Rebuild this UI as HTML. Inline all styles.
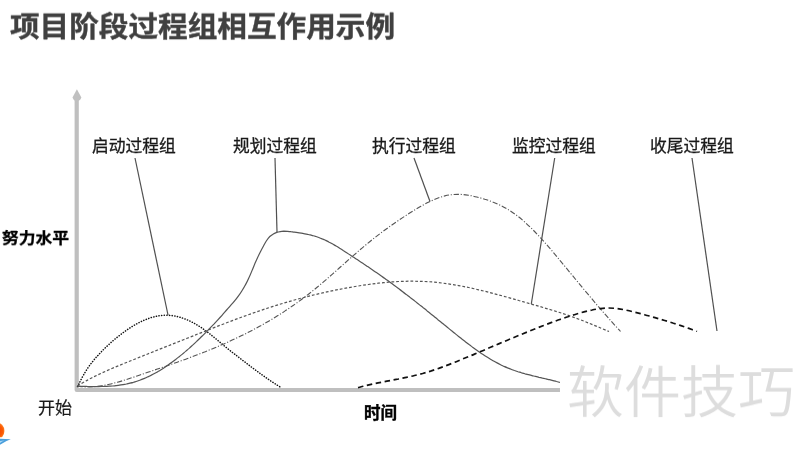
<!DOCTYPE html>
<html lang="zh-CN">
<head>
<meta charset="utf-8">
<title>项目阶段过程组相互作用示例</title>
<style>
html,body{margin:0;padding:0;background:#fff;}
body{width:800px;height:450px;position:relative;overflow:hidden;font-family:"Liberation Sans","Noto Sans CJK SC",sans-serif;}
.t{position:absolute;white-space:nowrap;line-height:1;margin:0;will-change:transform;}
#title{left:10px;top:11px;font-size:29.64px;font-weight:700;color:#404040;-webkit-text-stroke:0.4px #404040;transform:scaleY(0.945);transform-origin:0 100%;}
.lab{font-size:16.75px;color:#1a1a1a;top:139px;font-weight:400;-webkit-text-stroke:0.3px #1a1a1a;}
#ylab{left:1.700px;top:230.800px;font-size:16.8px;font-weight:700;color:#000;-webkit-text-stroke:0.35px #000;transform:scaleY(0.9);transform-origin:0 50%;}
#start{left:37.500px;top:400px;font-size:17px;color:#1a1a1a;-webkit-text-stroke:0.2px #1a1a1a;}
#xlab{left:364.300px;top:404.800px;font-size:16.5px;font-weight:700;color:#000;-webkit-text-stroke:0.35px #000;}
#wm{left:567px;top:364px;font-size:57px;color:#dddddd;font-weight:350;transform:scaleY(0.98);transform-origin:0 100%;}
#wmbg{position:absolute;left:560px;top:332px;width:240px;height:118px;background:#fff;}
svg{position:absolute;left:0;top:0;}
</style>
</head>
<body>
<svg id="chart" width="800" height="450" viewBox="0 0 800 450">
  <g fill="none" stroke="#bfbfbf" stroke-width="4.200" stroke-linejoin="round">
    <path d="M76.700 99 V390 H560"/>
  </g>
  <path d="M76.900 89.300 L81.400 97.500 Q80.600 99.800 78.900 100.800 H74.900 Q73.300 99.800 72.500 97.500 Z" fill="#c0c0c0"/>
  <g fill="none" stroke="#505050" stroke-width="1.200">
    <line x1="135" y1="158" x2="168" y2="315"/>
    <line x1="275" y1="158" x2="277" y2="232"/>
    <line x1="414" y1="158" x2="430" y2="201.500"/>
    <line x1="554.700" y1="158" x2="531.300" y2="304"/>
    <line x1="692" y1="158" x2="717" y2="331"/>
  </g>
  <!-- initiating -->
  <path id="c1" d="M77.5 386.5 C77.7 386.1 78.2 385.1 78.7 384.2 C79.2 383.2 79.7 382.2 80.5 380.7 C81.3 379.1 82.3 377.0 83.5 375.0 C84.7 373.0 86.0 370.7 87.5 368.5 C88.9 366.3 90.8 363.8 92.4 361.8 C94.1 359.7 95.7 357.8 97.4 356.0 C99.1 354.1 100.7 352.4 102.4 350.7 C104.0 349.0 105.7 347.4 107.4 345.9 C109.0 344.3 110.7 342.8 112.3 341.4 C114.0 339.9 115.6 338.5 117.3 337.2 C119.0 335.9 120.6 334.6 122.3 333.3 C123.9 332.1 125.6 330.9 127.3 329.7 C128.9 328.6 130.6 327.5 132.2 326.5 C133.9 325.4 135.5 324.5 137.2 323.6 C138.9 322.7 140.5 321.8 142.2 321.1 C143.8 320.3 145.5 319.6 147.2 319.0 C148.8 318.4 150.5 317.8 152.1 317.3 C153.8 316.9 155.5 316.5 157.1 316.1 C158.8 315.8 160.4 315.6 162.1 315.4 C163.7 315.3 165.4 315.2 167.1 315.3 C168.7 315.3 170.4 315.4 172.0 315.6 C173.7 315.8 175.4 316.1 177.0 316.5 C178.7 316.9 180.3 317.4 182.0 317.9 C183.6 318.4 185.3 319.1 187.0 319.8 C188.6 320.5 190.3 321.2 191.9 322.1 C193.6 322.9 195.3 323.9 196.9 324.9 C198.6 325.9 200.2 326.9 201.9 328.0 C203.5 329.2 205.2 330.4 206.9 331.6 C208.5 332.9 210.2 334.2 211.8 335.5 C213.5 336.9 215.2 338.2 216.8 339.6 C218.5 341.0 220.1 342.4 221.8 343.8 C223.5 345.2 225.1 346.6 226.8 347.9 C228.4 349.3 230.1 350.6 231.7 351.9 C233.4 353.2 235.1 354.5 236.7 355.7 C238.4 357.0 240.0 358.3 241.7 359.6 C243.4 360.9 245.0 362.1 246.7 363.4 C248.3 364.7 250.0 365.9 251.6 367.2 C253.3 368.4 255.0 369.7 256.6 370.9 C258.3 372.1 259.9 373.4 261.6 374.5 C263.3 375.7 264.9 376.9 266.6 378.1 C268.2 379.2 269.9 380.4 271.5 381.5 C273.2 382.6 274.9 383.7 276.5 384.7 C278.2 385.8 280.7 387.3 281.5 387.8" fill="none" stroke="#111" stroke-width="1.500" stroke-linecap="round" stroke-dasharray="0.200 2.450"/>
  <!-- planning -->
  <path id="c2" d="M77.5 386.2 C78.1 386.2 79.8 386.3 81.0 386.3 C82.2 386.3 83.3 386.4 84.5 386.4 C85.7 386.4 86.8 386.5 88.0 386.5 C89.2 386.5 90.3 386.6 91.5 386.6 C92.7 386.6 93.8 386.6 95.0 386.6 C96.1 386.6 97.3 386.6 98.5 386.6 C99.6 386.6 100.8 386.6 102.0 386.5 C103.1 386.5 104.3 386.5 105.5 386.4 C106.6 386.4 107.8 386.3 109.0 386.2 C110.1 386.2 111.3 386.1 112.5 386.0 C113.6 385.9 114.8 385.8 116.0 385.6 C117.1 385.5 118.3 385.4 119.5 385.2 C120.6 385.0 121.8 384.8 123.0 384.6 C124.1 384.4 125.3 384.2 126.4 384.0 C127.6 383.7 128.8 383.5 129.9 383.2 C131.1 382.9 132.3 382.6 133.4 382.3 C134.6 381.9 135.8 381.6 136.9 381.2 C138.1 380.8 139.3 380.4 140.4 380.0 C141.6 379.5 142.8 379.1 143.9 378.6 C145.1 378.1 146.3 377.6 147.4 377.0 C148.6 376.5 149.8 375.9 150.9 375.4 C152.1 374.8 153.3 374.2 154.4 373.5 C155.6 372.9 156.8 372.2 157.9 371.6 C159.1 370.9 160.2 370.2 161.4 369.4 C162.6 368.7 163.7 368.0 164.9 367.2 C166.1 366.4 167.2 365.6 168.4 364.8 C169.6 364.0 170.7 363.2 171.9 362.3 C173.1 361.5 174.2 360.6 175.4 359.7 C176.6 358.8 177.7 357.9 178.9 356.9 C180.1 356.0 181.2 355.1 182.4 354.1 C183.6 353.1 184.7 352.1 185.9 351.1 C187.1 350.1 188.2 349.1 189.4 348.1 C190.5 347.0 191.7 346.0 192.9 344.9 C194.0 343.8 195.2 342.7 196.4 341.6 C197.5 340.5 198.7 339.4 199.9 338.3 C201.0 337.1 202.2 336.0 203.4 334.8 C204.5 333.7 205.7 332.5 206.9 331.3 C208.0 330.1 209.2 328.9 210.4 327.7 C211.5 326.5 212.7 325.3 213.9 324.1 C215.0 322.8 216.2 321.6 217.4 320.3 C218.5 319.1 219.7 317.8 220.9 316.5 C222.0 315.2 223.2 313.9 224.3 312.6 C225.5 311.3 226.7 310.0 227.8 308.7 C229.0 307.4 230.2 306.1 231.3 304.7 C232.5 303.4 233.7 302.1 234.8 300.6 C236.0 299.2 237.2 297.7 238.3 296.1 C239.5 294.5 240.7 292.9 241.8 291.0 C243.0 289.2 244.2 287.3 245.3 285.1 C246.5 283.0 247.7 280.7 248.8 278.1 C250.0 275.6 251.2 272.7 252.3 269.9 C253.5 267.2 254.6 264.1 255.8 261.5 C257.0 258.9 258.1 256.5 259.3 254.1 C260.5 251.7 261.6 249.5 262.8 247.3 C264.0 245.1 265.1 242.8 266.3 241.0 C267.5 239.2 268.6 237.7 269.8 236.5 C271.0 235.3 272.1 234.7 273.3 234.0 C274.5 233.3 275.6 232.8 276.8 232.4 C278.0 232.0 279.1 231.8 280.3 231.6 C281.5 231.4 282.6 231.3 283.8 231.2 C285.0 231.2 286.1 231.2 287.3 231.3 C288.4 231.4 289.6 231.5 290.8 231.7 C291.9 231.8 293.1 232.0 294.3 232.1 C295.4 232.3 296.6 232.5 297.8 232.6 C298.9 232.8 300.1 233.0 301.3 233.2 C302.4 233.4 303.6 233.6 304.8 233.8 C305.9 234.0 307.1 234.3 308.3 234.5 C309.4 234.8 310.6 235.0 311.8 235.3 C312.9 235.6 314.1 236.0 315.3 236.3 C316.4 236.7 317.6 237.1 318.8 237.5 C319.9 237.9 321.1 238.4 322.2 238.9 C323.4 239.3 324.6 239.9 325.7 240.4 C326.9 241.0 328.1 241.6 329.2 242.2 C330.4 242.8 331.6 243.4 332.7 244.1 C333.9 244.8 335.1 245.4 336.2 246.1 C337.4 246.8 338.6 247.5 339.7 248.3 C340.9 249.0 342.1 249.7 343.2 250.5 C344.4 251.2 345.6 252.0 346.7 252.7 C347.9 253.5 349.1 254.3 350.2 255.0 C351.4 255.8 352.5 256.6 353.7 257.3 C354.9 258.1 356.0 258.9 357.2 259.6 C358.4 260.4 359.5 261.2 360.7 261.9 C361.9 262.7 363.0 263.5 364.2 264.3 C365.4 265.0 366.5 265.8 367.7 266.6 C368.9 267.4 370.0 268.2 371.2 269.0 C372.4 269.8 373.5 270.6 374.7 271.4 C375.9 272.2 377.0 273.0 378.2 273.8 C379.4 274.6 380.5 275.4 381.7 276.2 C382.9 277.1 384.0 277.9 385.2 278.7 C386.3 279.6 387.5 280.4 388.7 281.3 C389.8 282.1 391.0 283.0 392.2 283.8 C393.3 284.7 394.5 285.5 395.7 286.4 C396.8 287.3 398.0 288.2 399.2 289.0 C400.3 289.9 401.5 290.8 402.7 291.7 C403.8 292.6 405.0 293.5 406.2 294.4 C407.3 295.3 408.5 296.2 409.7 297.1 C410.8 298.0 412.0 298.9 413.2 299.8 C414.3 300.7 415.5 301.6 416.6 302.5 C417.8 303.4 419.0 304.4 420.1 305.3 C421.3 306.2 422.5 307.1 423.6 308.1 C424.8 309.0 426.0 309.9 427.1 310.9 C428.3 311.8 429.5 312.7 430.6 313.7 C431.8 314.6 433.0 315.6 434.1 316.5 C435.3 317.5 436.5 318.4 437.6 319.4 C438.8 320.3 440.0 321.3 441.1 322.2 C442.3 323.2 443.5 324.1 444.6 325.1 C445.8 326.0 447.0 327.0 448.1 327.9 C449.3 328.9 450.4 329.8 451.6 330.8 C452.8 331.7 453.9 332.7 455.1 333.6 C456.3 334.6 457.4 335.5 458.6 336.4 C459.8 337.3 460.9 338.3 462.1 339.2 C463.3 340.1 464.4 341.0 465.6 341.9 C466.8 342.8 467.9 343.7 469.1 344.6 C470.3 345.4 471.4 346.3 472.6 347.2 C473.8 348.0 474.9 348.9 476.1 349.7 C477.3 350.5 478.4 351.4 479.6 352.2 C480.7 353.0 481.9 353.8 483.1 354.5 C484.2 355.3 485.4 356.1 486.6 356.8 C487.7 357.5 488.9 358.3 490.1 359.0 C491.2 359.7 492.4 360.3 493.6 361.0 C494.7 361.7 495.9 362.3 497.1 362.9 C498.2 363.5 499.4 364.1 500.6 364.7 C501.7 365.3 502.9 365.8 504.1 366.4 C505.2 366.9 506.4 367.4 507.6 367.9 C508.7 368.3 509.9 368.8 511.1 369.2 C512.2 369.7 513.4 370.1 514.5 370.5 C515.7 370.9 516.9 371.3 518.0 371.7 C519.2 372.1 520.4 372.4 521.5 372.8 C522.7 373.1 523.9 373.4 525.0 373.8 C526.2 374.1 527.4 374.4 528.5 374.7 C529.7 375.0 530.9 375.3 532.0 375.6 C533.2 375.9 534.4 376.1 535.5 376.4 C536.7 376.7 537.9 377.0 539.0 377.3 C540.2 377.5 541.4 377.8 542.5 378.1 C543.7 378.3 544.8 378.6 546.0 378.9 C547.2 379.2 548.3 379.4 549.5 379.7 C550.7 380.0 551.8 380.3 553.0 380.6 C554.2 380.9 555.3 381.1 556.5 381.5 C557.7 381.8 559.4 382.2 560.0 382.4" fill="none" stroke="#555" stroke-width="1.200"/>
  <!-- executing -->
  <path id="c3" d="M77.5 386.2 C78.8 386.3 82.8 386.8 85.5 386.9 C88.1 386.9 90.8 386.9 93.5 386.7 C96.1 386.5 98.8 386.2 101.5 385.7 C104.1 385.3 106.8 384.8 109.4 384.2 C112.1 383.6 114.8 382.9 117.4 382.2 C120.1 381.5 122.8 380.7 125.4 379.8 C128.1 379.0 130.7 378.1 133.4 377.2 C136.1 376.4 138.7 375.4 141.4 374.5 C144.0 373.6 146.7 372.7 149.4 371.8 C152.0 370.9 154.7 370.0 157.4 369.1 C160.0 368.2 162.7 367.3 165.3 366.4 C168.0 365.5 170.7 364.5 173.3 363.6 C176.0 362.6 178.6 361.7 181.3 360.7 C184.0 359.8 186.6 358.8 189.3 357.8 C192.0 356.8 194.6 355.8 197.3 354.8 C199.9 353.8 202.6 352.7 205.3 351.7 C207.9 350.6 210.6 349.5 213.2 348.4 C215.9 347.3 218.6 346.2 221.2 345.0 C223.9 343.9 226.6 342.7 229.2 341.5 C231.9 340.3 234.5 339.1 237.2 337.8 C239.9 336.5 242.5 335.2 245.2 333.9 C247.9 332.6 250.5 331.2 253.2 329.8 C255.8 328.4 258.5 326.9 261.2 325.5 C263.8 324.0 266.5 322.4 269.1 320.9 C271.8 319.3 274.5 317.7 277.1 316.0 C279.8 314.4 282.5 312.7 285.1 310.9 C287.8 309.2 290.4 307.4 293.1 305.5 C295.8 303.7 298.4 301.8 301.1 299.8 C303.8 297.8 306.4 295.8 309.1 293.7 C311.7 291.6 314.4 289.5 317.1 287.3 C319.7 285.1 322.4 282.9 325.0 280.6 C327.7 278.3 330.4 276.0 333.0 273.6 C335.7 271.3 338.4 268.9 341.0 266.5 C343.7 264.2 346.3 261.8 349.0 259.4 C351.7 257.1 354.3 254.7 357.0 252.4 C359.6 250.1 362.3 247.8 365.0 245.6 C367.6 243.4 370.3 241.2 373.0 239.1 C375.6 237.0 378.3 234.9 380.9 232.9 C383.6 230.9 386.3 229.0 388.9 227.1 C391.6 225.2 394.2 223.3 396.9 221.5 C399.6 219.7 402.2 217.9 404.9 216.2 C407.6 214.4 410.2 212.7 412.9 211.1 C415.5 209.4 418.2 207.8 420.9 206.3 C423.5 204.8 426.2 203.3 428.9 202.0 C431.5 200.7 434.2 199.5 436.8 198.5 C439.5 197.5 442.2 196.6 444.8 195.9 C447.5 195.3 450.1 194.8 452.8 194.6 C455.5 194.3 458.1 194.3 460.8 194.4 C463.5 194.5 466.1 194.9 468.8 195.3 C471.4 195.7 474.1 196.3 476.8 197.0 C479.4 197.6 482.1 198.3 484.8 199.2 C487.4 200.0 490.1 200.9 492.7 202.0 C495.4 203.0 498.1 204.2 500.7 205.5 C503.4 206.8 506.0 208.3 508.7 209.9 C511.4 211.6 514.0 213.4 516.7 215.4 C519.4 217.4 522.0 219.6 524.7 222.0 C527.3 224.4 530.0 226.9 532.7 229.6 C535.3 232.2 538.0 235.1 540.6 237.9 C543.3 240.8 546.0 243.9 548.6 246.9 C551.3 250.0 554.0 253.2 556.6 256.3 C559.3 259.5 561.9 262.8 564.6 266.0 C567.3 269.2 569.9 272.5 572.6 275.7 C575.2 278.9 577.9 282.2 580.6 285.4 C583.2 288.6 585.9 291.8 588.6 294.9 C591.2 298.1 593.9 301.2 596.5 304.4 C599.2 307.5 601.9 310.6 604.5 313.6 C607.2 316.7 609.9 319.7 612.5 322.7 C615.2 325.7 619.2 330.0 620.5 331.5" fill="none" stroke="#555" stroke-width="1.100" stroke-dasharray="5.300 1.800 1.100 1.800"/>
  <!-- monitoring -->
  <path id="c4" d="M77.5 386.0 C79.2 385.0 84.2 381.9 87.5 380.1 C90.9 378.2 94.2 376.6 97.6 375.0 C100.9 373.4 104.2 371.9 107.6 370.4 C110.9 368.9 114.3 367.5 117.6 366.1 C121.0 364.8 124.3 363.4 127.6 362.0 C131.0 360.7 134.3 359.3 137.7 358.0 C141.0 356.6 144.4 355.3 147.7 354.0 C151.0 352.6 154.4 351.3 157.7 350.0 C161.1 348.6 164.4 347.3 167.8 346.0 C171.1 344.7 174.4 343.3 177.8 342.0 C181.1 340.7 184.5 339.3 187.8 338.0 C191.2 336.7 194.5 335.3 197.8 334.0 C201.2 332.7 204.5 331.4 207.9 330.1 C211.2 328.7 214.6 327.4 217.9 326.1 C221.2 324.8 224.6 323.6 227.9 322.3 C231.3 321.0 234.6 319.8 238.0 318.5 C241.3 317.3 244.6 316.1 248.0 314.9 C251.3 313.7 254.7 312.5 258.0 311.4 C261.4 310.2 264.7 309.1 268.0 308.0 C271.4 306.9 274.7 305.9 278.1 304.8 C281.4 303.8 284.8 302.8 288.1 301.8 C291.4 300.9 294.8 299.9 298.1 299.0 C301.5 298.1 304.8 297.2 308.2 296.4 C311.5 295.5 314.8 294.7 318.2 293.9 C321.5 293.1 324.9 292.4 328.2 291.7 C331.6 290.9 334.9 290.2 338.2 289.6 C341.6 288.9 344.9 288.3 348.3 287.7 C351.6 287.1 354.9 286.5 358.3 286.0 C361.6 285.4 365.0 284.9 368.3 284.5 C371.7 284.0 375.0 283.6 378.3 283.2 C381.7 282.8 385.0 282.5 388.4 282.2 C391.7 281.9 395.1 281.7 398.4 281.5 C401.7 281.4 405.1 281.3 408.4 281.2 C411.8 281.2 415.1 281.2 418.5 281.3 C421.8 281.3 425.1 281.5 428.5 281.7 C431.8 281.9 435.2 282.2 438.5 282.6 C441.9 283.0 445.2 283.4 448.5 283.9 C451.9 284.4 455.2 285.0 458.6 285.6 C461.9 286.2 465.3 286.8 468.6 287.5 C471.9 288.2 475.3 289.0 478.6 289.8 C482.0 290.6 485.3 291.4 488.7 292.2 C492.0 293.1 495.3 294.0 498.7 294.9 C502.0 295.8 505.4 296.7 508.7 297.6 C512.1 298.6 515.4 299.5 518.7 300.5 C522.1 301.4 525.4 302.4 528.8 303.4 C532.1 304.3 535.5 305.3 538.8 306.2 C542.1 307.2 545.5 308.2 548.8 309.2 C552.2 310.2 555.5 311.2 558.9 312.3 C562.2 313.3 565.5 314.4 568.9 315.6 C572.2 316.8 575.6 318.0 578.9 319.2 C582.3 320.5 585.6 321.8 588.9 323.2 C592.3 324.5 595.6 325.9 599.0 327.3 C602.3 328.7 607.3 330.8 609.0 331.5" fill="none" stroke="#555" stroke-width="1.200" stroke-dasharray="2.800 1.950"/>
  <!-- closing -->
  <path id="c5" d="M358.0 387.6 C359.3 387.3 363.4 386.2 366.1 385.5 C368.8 384.9 371.5 384.3 374.1 383.7 C376.8 383.1 379.5 382.6 382.2 382.1 C384.9 381.5 387.6 381.0 390.3 380.5 C393.0 380.0 395.7 379.5 398.4 379.0 C401.0 378.4 403.7 377.9 406.4 377.3 C409.1 376.8 411.8 376.2 414.5 375.5 C417.2 374.9 419.9 374.2 422.6 373.5 C425.3 372.7 428.0 371.9 430.6 371.1 C433.3 370.2 436.0 369.3 438.7 368.4 C441.4 367.4 444.1 366.4 446.8 365.4 C449.5 364.4 452.2 363.3 454.9 362.2 C457.5 361.2 460.2 360.0 462.9 358.9 C465.6 357.8 468.3 356.7 471.0 355.6 C473.7 354.4 476.4 353.3 479.1 352.1 C481.8 351.0 484.5 349.9 487.1 348.7 C489.8 347.6 492.5 346.4 495.2 345.3 C497.9 344.2 500.6 343.0 503.3 341.9 C506.0 340.8 508.7 339.6 511.4 338.5 C514.0 337.4 516.7 336.3 519.4 335.2 C522.1 334.1 524.8 333.0 527.5 331.9 C530.2 330.8 532.9 329.7 535.6 328.6 C538.3 327.6 541.0 326.5 543.6 325.5 C546.3 324.4 549.0 323.4 551.7 322.4 C554.4 321.4 557.1 320.5 559.8 319.5 C562.5 318.6 565.2 317.6 567.9 316.8 C570.5 315.9 573.2 315.0 575.9 314.2 C578.6 313.4 581.3 312.6 584.0 311.9 C586.7 311.2 589.4 310.5 592.1 310.0 C594.8 309.4 597.5 308.9 600.1 308.6 C602.8 308.3 605.5 308.0 608.2 308.0 C610.9 308.0 613.6 308.2 616.3 308.5 C619.0 308.8 621.7 309.2 624.4 309.8 C627.0 310.3 629.7 310.9 632.4 311.6 C635.1 312.2 637.8 312.9 640.5 313.6 C643.2 314.3 645.9 315.1 648.6 315.8 C651.3 316.6 654.0 317.3 656.6 318.1 C659.3 318.9 662.0 319.7 664.7 320.5 C667.4 321.3 670.1 322.1 672.8 323.0 C675.5 323.8 678.2 324.7 680.9 325.6 C683.5 326.5 686.2 327.5 688.9 328.4 C691.6 329.4 695.7 331.0 697.0 331.5" fill="none" stroke="#111" stroke-width="1.700" stroke-dasharray="5.500 3.600"/>
</svg>
<div id="wmbg"></div>
<div class="t" id="title">项目阶段过程组相互作用示例</div>
<div class="t lab" style="left:91.600px">启动过程组</div>
<div class="t lab" style="left:232.600px">规划过程组</div>
<div class="t lab" style="left:371.600px">执行过程组</div>
<div class="t lab" style="left:511.600px">监控过程组</div>
<div class="t lab" style="left:649.600px">收尾过程组</div>
<div class="t" id="ylab">努力水平</div>
<div class="t" id="start">开始</div>
<div class="t" id="xlab">时间</div>
<div class="t" id="wm">软件技巧</div>
<svg id="logo" width="20" height="30" viewBox="0 0 20 30" style="left:0;top:420px">
  <defs>
    <radialGradient id="sun" cx="-3.500" cy="11" r="8.800" gradientUnits="userSpaceOnUse">
      <stop offset="0" stop-color="#f04000"/>
      <stop offset="0.700" stop-color="#fb5a05"/>
      <stop offset="1" stop-color="#ff8a2a"/>
    </radialGradient>
    <clipPath id="hz"><rect x="0" y="0" width="20" height="17.200"/></clipPath>
  </defs>
  <ellipse cx="-3.500" cy="11" rx="7.900" ry="8.700" fill="url(#sun)" clip-path="url(#hz)"/>
  <path d="M0 18.700 L10.800 19.200 Q6 20.600 0 24.800 Z" fill="#4a9fdc"/>
  <path d="M0 20.900 L4.500 20.600 Q2 21.600 0 23 Z" fill="#a8d6f5"/>
</svg>
</body>
</html>
